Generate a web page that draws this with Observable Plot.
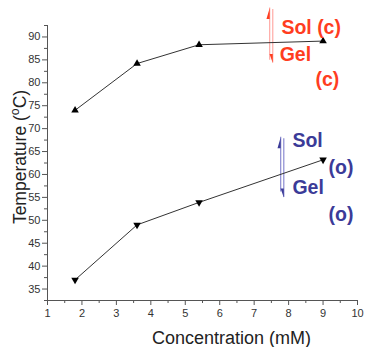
<!DOCTYPE html>
<html>
<head>
<meta charset="utf-8">
<script src="https://cdn.jsdelivr.net/npm/d3@7"></script>
<script src="https://cdn.jsdelivr.net/npm/@observablehq/plot@0.6"></script>
<style>
  html, body { margin: 0; padding: 0; background: #fff; }
  #chart svg { display: block; }
</style>
</head>
<body>
<div id="chart"></div>
<script>
// ---- data ----
const concentration = [1.8, 3.6, 5.4, 9];
const tempClosed = [74, 84.2, 88.3, 89.1];   // "(c)" series, up triangles
const tempOpen = [37, 49, 53.9, 63.2];       // "(o)" series, down triangles

const xTicks = [1, 2, 3, 4, 5, 6, 7, 8, 9, 10];
const xMinorTicks = [1.5, 2.5, 3.5, 4.5, 5.5, 6.5, 7.5, 8.5, 9.5];
const yTicks = [35, 40, 45, 50, 55, 60, 65, 70, 75, 80, 85, 90];
const yMinorTicks = [32.5, 37.5, 42.5, 47.5, 52.5, 57.5, 62.5, 67.5, 72.5, 77.5, 82.5, 87.5, 92.5];

const xTitle = "Concentration (mM)";
const yTitle = "Temperature (oC)";

// annotation labels (data coordinates)
const labelText = ["Sol (c)", "Gel", "(c)", "Sol", "(o)", "Gel", "(o)"];
const labelX = [7.79, 7.74, 8.78, 8.11, 9.16, 8.11, 9.16];
const labelY = [92.1, 86.2, 80.7, 67.4, 61.5, 57.1, 51.2];
const labelGroup = ["c", "c", "c", "o", "o", "o", "o"];

// transition arrows (data coordinates): up arrow line and down arrow line
const arrowGroup = ["c", "c", "o", "o"];
const arrowDir = ["up", "down", "up", "down"];
const arrowX = [7.45, 7.54, 7.77, 7.86];
const arrowTop = [96.3, 96.0, 68.1, 67.8];
const arrowBottom = [84.9, 84.3, 56.2, 55.0];

// ---- styles ----
const textColor = {c: "#ff3d1f", o: "#3b3b98"};
const lineColor = {c: "#ffaaa6", o: "#8a8ad0"};
const axisColor = "#555";
const tickTextColor = "#333";

const rowsC = concentration.map((x, i) => ({x, y: tempClosed[i]}));
const rowsO = concentration.map((x, i) => ({x, y: tempOpen[i]}));
const labels = labelText.map((t, i) => ({t, x: labelX[i], y: labelY[i], g: labelGroup[i]}));
const arrows = arrowGroup.map((g, i) => ({g, dir: arrowDir[i], x: arrowX[i], y1: arrowTop[i], y2: arrowBottom[i]}));

const harpoonUp = {draw(ctx) { ctx.moveTo(0, 0); ctx.lineTo(-3.2, 11); ctx.lineTo(0, 11); ctx.closePath(); }};
const harpoonDown = {draw(ctx) { ctx.moveTo(0, 0); ctx.lineTo(-3.2, -9); ctx.lineTo(0, -9); ctx.closePath(); }};

const chart = Plot.plot({
  width: 367,
  height: 347,
  marginLeft: 47,
  marginRight: 10,
  marginTop: 25,
  marginBottom: 47,
  style: {fontFamily: "'Liberation Sans', Arial, sans-serif", background: "#fff", overflow: "visible"},
  x: {domain: [1, 10]},
  y: {domain: [32.5, 92.5]},
  marks: [
    Plot.axisX({ticks: xMinorTicks, tickSize: 3, tickFormat: () => "", label: null, stroke: axisColor}),
    Plot.axisX({ticks: xTicks, tickSize: 5, tickPadding: 4, fontSize: 11, label: null, stroke: axisColor, fill: tickTextColor, tickFormat: d => String(d)}),
    Plot.axisY({ticks: yMinorTicks, tickSize: 3, tickFormat: () => "", label: null, stroke: axisColor}),
    Plot.axisY({ticks: yTicks, tickSize: 5, tickPadding: 2, fontSize: 11, label: null, stroke: axisColor, fill: tickTextColor, tickFormat: d => String(d)}),
    Plot.ruleY([32.5], {stroke: axisColor}),
    Plot.ruleX([1], {stroke: axisColor}),
    // transition arrows
    Plot.ruleX(arrows, {x: "x", y1: "y1", y2: "y2", stroke: d => lineColor[d.g], strokeWidth: 1.2}),
    Plot.dot(arrows.filter(d => d.dir === "up"), {x: "x", y: "y1", symbol: harpoonUp, fill: d => textColor[d.g], stroke: "none"}),
    Plot.dot(arrows.filter(d => d.dir === "down"), {x: "x", y: "y2", symbol: harpoonDown, fill: d => textColor[d.g], stroke: "none"}),
    // series
    Plot.line(rowsC, {x: "x", y: "y", stroke: "#333", strokeWidth: 1}),
    Plot.line(rowsO, {x: "x", y: "y", stroke: "#333", strokeWidth: 1}),
    Plot.dot(rowsC, {x: "x", y: "y", symbol: "triangle", r: 2.8, fill: "#000", stroke: "none"}),
    Plot.dot(rowsO, {x: "x", y: "y", symbol: "triangle", r: 2.8, rotate: 180, fill: "#000", stroke: "none"}),
    // annotation labels
    Plot.text(labels, {x: "x", y: "y", text: "t", textAnchor: "start", fill: d => textColor[d.g], fontSize: 19.5, fontWeight: "bold"}),
    // axis titles
    Plot.text([xTitle], {text: d => d, frameAnchor: "bottom", textAnchor: "middle", lineAnchor: "middle", dx: 29, dy: 38, fontSize: 18, fill: "#222"}),
    Plot.text([yTitle], {text: d => d, frameAnchor: "left", textAnchor: "middle", lineAnchor: "middle", rotate: -90, dx: -27, dy: -6, fontSize: 17.5, fill: "#222"})
  ]
});

document.getElementById("chart").appendChild(chart);

// superscript the "o" in the y title
d3.select(chart).selectAll("text").each(function() {
  if (this.textContent === yTitle) {
    const t = d3.select(this);
    t.text(null);
    t.append("tspan").text("Temperature (");
    t.append("tspan").attr("baseline-shift", "super").attr("font-size", "0.7em").text("o");
    t.append("tspan").text("C)");
  }
});
</script>
</body>
</html>
